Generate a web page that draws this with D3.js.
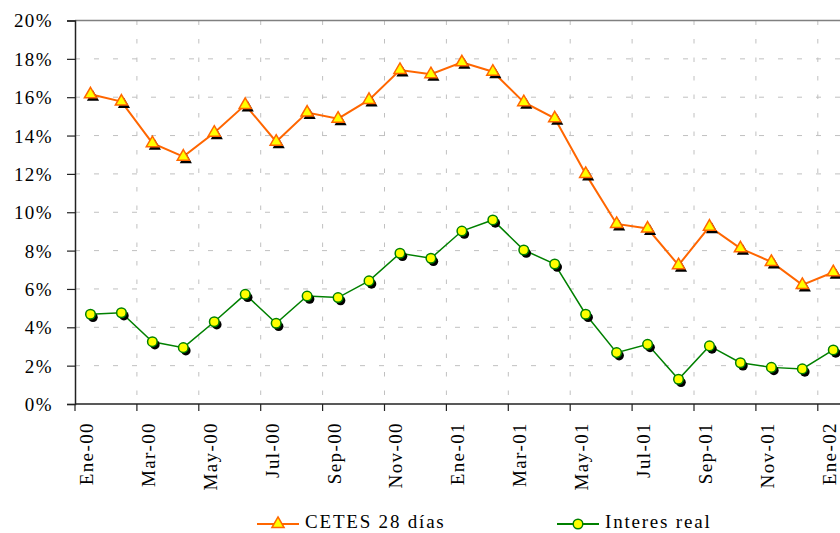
<!DOCTYPE html>
<html>
<head>
<meta charset="utf-8">
<script src="https://cdn.jsdelivr.net/npm/d3@7"></script>
<style>
  body { margin: 0; background: #fff; }
  svg { display: block; }
  text { font-family: "Liberation Serif", "Times New Roman", serif; fill: #000; }
</style>
</head>
<body>
<div id="chart"></div>
<script>
// Monthly categories, Ene-00 .. Ene-02
const months = ['Ene-00','Feb-00','Mar-00','Abr-00','May-00','Jun-00','Jul-00','Ago-00','Sep-00','Oct-00','Nov-00','Dic-00',
                'Ene-01','Feb-01','Mar-01','Abr-01','May-01','Jun-01','Jul-01','Ago-01','Sep-01','Oct-01','Nov-01','Dic-01',
                'Ene-02'];
// CETES 28 días (%)
const cetes = [16.15, 15.77, 13.6, 12.9, 14.15, 15.6, 13.68, 15.2, 14.88, 15.86, 17.42, 17.2,
               17.82, 17.33, 15.74, 14.9, 12.0, 9.39, 9.15, 7.24, 9.25, 8.12, 7.41, 6.21, 6.87];
// Interes real (%)
const real = [4.68, 4.76, 3.25, 2.94, 4.29, 5.72, 4.21, 5.63, 5.55, 6.42, 7.86, 7.6,
              9.02, 9.6, 8.03, 7.3, 4.68, 2.68, 3.11, 1.29, 3.03, 2.15, 1.91, 1.83, 2.82];
const yTicks = [0, 2, 4, 6, 8, 10, 12, 14, 16, 18, 20];
const seriesNames = ['CETES 28 días', 'Interes real'];

const W = 840, H = 533;
const plot = { left: 75, top: 20.5, bottom: 404 };
const fontSize = 19, spacing = 1.4;

const svg = d3.select('#chart').append('svg')
    .attr('width', W)
    .attr('height', H);

const x = d3.scaleBand()
    .domain(months)
    .range([plot.left, plot.left + 25 * 30.95])
    .padding(0);
const bw = x.bandwidth();
const cx = d => x(d) + bw / 2;

const y = d3.scaleLinear()
    .domain([0, 20])
    .range([plot.bottom, plot.top]);

// Gridlines
const grid = svg.append('g');
yTicks.filter(t => t > 0 && t < 20).forEach(t => {
    grid.append('line')
        .attr('x1', plot.left).attr('x2', W)
        .attr('y1', y(t)).attr('y2', y(t))
        .attr('stroke', '#c0c0c0')
        .attr('stroke-dasharray', '5,14');
});
const tickCats = months.filter((m, i) => i % 2 === 0);
tickCats.slice(1).forEach(m => {
    grid.append('line')
        .attr('x1', x(m)).attr('x2', x(m))
        .attr('y1', plot.top).attr('y2', plot.bottom)
        .attr('stroke', '#c0c0c0')
        .attr('stroke-dasharray', '4.5,14');
});

// Plot border on top
svg.append('line')
    .attr('x1', plot.left).attr('x2', W)
    .attr('y1', plot.top).attr('y2', plot.top)
    .attr('stroke', '#808080')
    .attr('stroke-width', 1.5);

// Y axis
const yAxis = svg.append('g')
    .attr('transform', `translate(${plot.left},0)`)
    .call(d3.axisLeft(y).tickValues(yTicks).tickFormat(d => d + '%').tickSize(8).tickPadding(14));
yAxis.select('.domain').attr('stroke', '#222').attr('stroke-width', 1.5);
yAxis.selectAll('.tick line').attr('stroke', '#222').attr('stroke-width', 1.2);
yAxis.selectAll('text')
    .attr('font-size', fontSize)
    .attr('letter-spacing', spacing)
    .attr('font-family', '"Liberation Serif", serif')
    .attr('fill', '#000')
    .attr('dy', '0.34em');

// X axis
svg.append('line')
    .attr('x1', plot.left).attr('x2', W)
    .attr('y1', plot.bottom).attr('y2', plot.bottom)
    .attr('stroke', '#222').attr('stroke-width', 1.5);
tickCats.forEach(m => {
    svg.append('line')
        .attr('x1', x(m)).attr('x2', x(m))
        .attr('y1', plot.bottom).attr('y2', plot.bottom + 7)
        .attr('stroke', '#222').attr('stroke-width', 1.2);
    svg.append('text')
        .attr('transform', `translate(${cx(m) - 4},${plot.bottom + 18}) rotate(-90)`)
        .attr('text-anchor', 'end')
        .attr('dy', '0.34em')
        .attr('font-size', fontSize)
        .attr('letter-spacing', spacing)
        .text(m);
});

// Series
const tri = d3.symbol().type(d3.symbolTriangle).size(64);
const circ = d3.symbol().type(d3.symbolCircle).size(72);

function drawSeries(values, color, width, sym) {
    const pts = months.map((m, i) => ({ m, v: values[i] }));
    svg.append('path')
        .datum(pts)
        .attr('fill', 'none')
        .attr('stroke', color)
        .attr('stroke-width', width)
        .attr('d', d3.line().x(d => cx(d.m)).y(d => y(d.v)));
    // marker shadows
    svg.append('g').selectAll('path')
        .data(pts).join('path')
        .attr('transform', d => `translate(${cx(d.m) + 2.5},${y(d.v) + 3})`)
        .attr('d', sym)
        .attr('fill', '#000');
    svg.append('g').selectAll('path')
        .data(pts).join('path')
        .attr('transform', d => `translate(${cx(d.m)},${y(d.v)})`)
        .attr('d', sym)
        .attr('fill', '#ffff00')
        .attr('stroke', color)
        .attr('stroke-width', 1.5);
}
drawSeries(cetes, '#ff6600', 2, tri);
drawSeries(real, '#008000', 1.5, circ);

// Legend
const legend = [
    { name: seriesNames[0], color: '#ff6600', sym: tri, x: 257 },
    { name: seriesNames[1], color: '#008000', sym: circ, x: 557 }
];
const ly = 524;
legend.forEach(l => {
    svg.append('line')
        .attr('x1', l.x).attr('x2', l.x + 42)
        .attr('y1', ly).attr('y2', ly)
        .attr('stroke', l.color).attr('stroke-width', 2);
    svg.append('path')
        .attr('transform', `translate(${l.x + 21},${ly})`)
        .attr('d', l.sym)
        .attr('fill', '#ffff00')
        .attr('stroke', l.color)
        .attr('stroke-width', 1.5);
    svg.append('text')
        .attr('x', l.x + 48)
        .attr('y', 528)
        .attr('font-size', fontSize)
        .attr('letter-spacing', 1.8)
        .text(l.name);
});
</script>
</body>
</html>
